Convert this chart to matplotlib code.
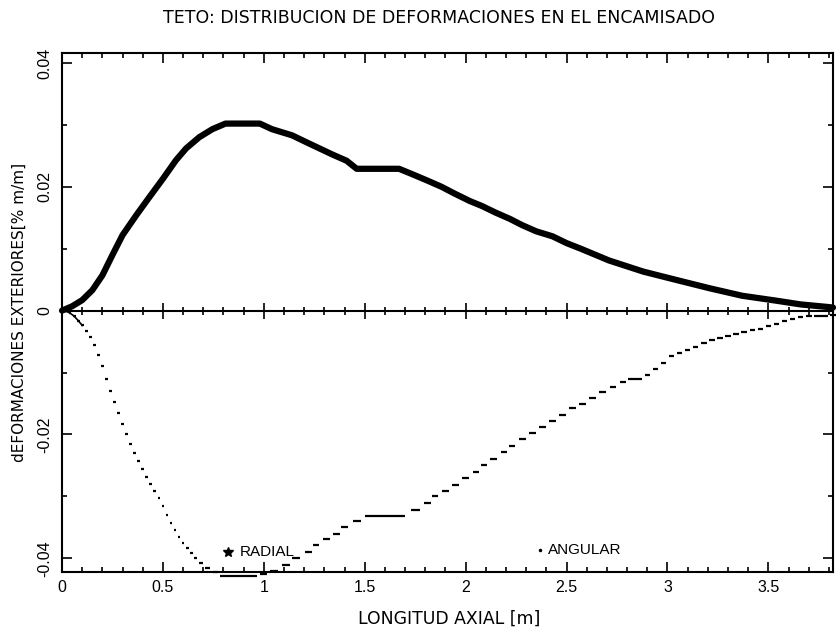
import matplotlib
matplotlib.use("Agg")
import matplotlib.pyplot as plt
import numpy as np
from matplotlib.ticker import MultipleLocator, FuncFormatter

plt.rcParams['font.family'] = ['Liberation Sans', 'DejaVu Sans']

title = "TETO: DISTRIBUCION DE DEFORMACIONES EN EL ENCAMISADO"
xlabel = "LONGITUD AXIAL [m]"
ylabel = "dEFORMACIONES EXTERIORES[% m/m]"

# RADIAL strain (upper curve)
radial_x = [0.0, 0.05, 0.10, 0.15, 0.20, 0.25, 0.30, 0.37, 0.43, 0.50, 0.565, 0.615,
            0.68, 0.745, 0.81, 0.90, 0.98, 1.04, 1.14, 1.21, 1.275, 1.34, 1.41,
            1.46, 1.56, 1.67, 1.73, 1.81, 1.88, 1.945, 2.02, 2.08, 2.15, 2.22,
            2.28, 2.35, 2.43, 2.50, 2.57, 2.71, 2.88, 3.05, 3.21, 3.37, 3.54,
            3.66, 3.79, 3.82]
radial_y = [0.0, 0.0007, 0.0017, 0.0033, 0.0057, 0.0090, 0.0122, 0.0155, 0.0182,
            0.0213, 0.0243, 0.0262, 0.0280, 0.0293, 0.0302, 0.0302, 0.0302, 0.0293,
            0.0283, 0.0272, 0.0262, 0.0252, 0.0242, 0.0229, 0.0229, 0.0229, 0.0221,
            0.0210, 0.0200, 0.0189, 0.0177, 0.0169, 0.0158, 0.0148, 0.0138, 0.0128,
            0.0120, 0.0109, 0.0100, 0.0081, 0.0063, 0.0049, 0.0036, 0.0024, 0.0016,
            0.0010, 0.0006, 0.0005]

# ANGULAR strain (lower curve)
angular_x = [0.0, 0.02, 0.04, 0.06, 0.08, 0.10, 0.12, 0.14, 0.16, 0.18, 0.20, 0.22,
             0.24, 0.26, 0.28, 0.30, 0.32, 0.34, 0.36, 0.38, 0.40, 0.42, 0.44, 0.46,
             0.48, 0.50, 0.52, 0.54, 0.56, 0.58, 0.60, 0.62, 0.64, 0.66, 0.69, 0.72,
             0.76, 0.80, 0.85, 0.90, 0.95, 1.00, 1.05, 1.11, 1.16, 1.22, 1.26, 1.31,
             1.36, 1.40, 1.46, 1.52, 1.56, 1.60, 1.64, 1.68, 1.75, 1.81, 1.85, 1.90,
             1.95, 2.00, 2.05, 2.09, 2.14, 2.19, 2.23, 2.28, 2.33, 2.38, 2.43, 2.48,
             2.53, 2.58, 2.63, 2.68, 2.73, 2.78, 2.82, 2.86, 2.90, 2.94, 2.98, 3.02,
             3.06, 3.10, 3.14, 3.18, 3.22, 3.26, 3.30, 3.34, 3.38, 3.42, 3.46, 3.50,
             3.54, 3.58, 3.62, 3.66, 3.70, 3.74, 3.78, 3.82]
angular_y = [0.0, -0.0001, -0.0004, -0.0009, -0.0016, -0.0024, -0.0033, -0.0043,
             -0.0055, -0.0072, -0.0090, -0.0110, -0.0130, -0.0148, -0.0166, -0.0183,
             -0.0200, -0.0216, -0.0230, -0.0243, -0.0256, -0.0268, -0.0280, -0.0291,
             -0.0303, -0.0316, -0.0330, -0.0343, -0.0355, -0.0366, -0.0376, -0.0384,
             -0.0392, -0.0399, -0.0408, -0.0416, -0.0422, -0.0428, -0.0428, -0.0428,
             -0.0428, -0.0426, -0.0421, -0.0410, -0.0400, -0.0389, -0.0379, -0.0369,
             -0.0360, -0.0350, -0.0340, -0.0332, -0.0332, -0.0332, -0.0332, -0.0332,
             -0.0322, -0.0311, -0.0300, -0.0291, -0.0281, -0.0270, -0.0260, -0.0249,
             -0.0239, -0.0229, -0.0218, -0.0208, -0.0198, -0.0188, -0.0178, -0.0168,
             -0.0158, -0.0150, -0.0141, -0.0132, -0.0124, -0.0116, -0.0110, -0.0110,
             -0.0104, -0.0095, -0.0085, -0.0074, -0.0068, -0.0063, -0.0058, -0.0053,
             -0.0048, -0.0045, -0.0041, -0.0038, -0.0035, -0.0032, -0.0029, -0.0025,
             -0.0021, -0.0017, -0.0014, -0.0011, -0.0009, -0.0008, -0.0008, -0.0007]

legend_labels = ["RADIAL", "ANGULAR"]

fig = plt.figure(figsize=(8.36, 6.33), dpi=100)
ax = fig.add_axes([0.0742, 0.0964, 0.9222, 0.8199])
xmin, xmax = 0.0, 3.82
ymin, ymax = -0.0422, 0.0416
ax.set_xlim(xmin, xmax)
ax.set_ylim(ymin, ymax)

ax.plot(radial_x, radial_y, color='black', lw=4.5, solid_capstyle='round',
        solid_joinstyle='round', clip_on=False)

# ANGULAR: plotter-style horizontal dashes, one per sample (runs of equal value merged)
ax_arr = np.asarray(angular_x)
ay_arr = np.asarray(angular_y)
sp = np.gradient(ax_arr)
half = 0.34 * sp
ax.plot(ax_arr[:6], ay_arr[:6], color='black', lw=1.2)
i = 0
n = len(ax_arr)
while i < n:
    j = i
    while j + 1 < n and ay_arr[j + 1] == ay_arr[i]:
        j += 1
    ax.hlines(ay_arr[i], ax_arr[i] - half[i], ax_arr[j] + half[j], color='black',
              lw=1.6, clip_on=False)
    i = j + 1

# legend as text
ax.plot([0.82], [-0.039], marker='*', color='black', markersize=7, linestyle='none')
ax.text(0.88, -0.039, legend_labels[0], fontsize=11, va='center', ha='left')
ax.plot([2.37], [-0.0386], marker='.', color='black', markersize=3, linestyle='none')
ax.text(2.41, -0.0386, legend_labels[1], fontsize=11, va='center', ha='left')

for s in ax.spines.values():
    s.set_linewidth(1.5)

ax.xaxis.set_major_locator(MultipleLocator(0.5))
ax.xaxis.set_minor_locator(MultipleLocator(0.1))
ax.yaxis.set_major_locator(MultipleLocator(0.02))
ax.yaxis.set_minor_locator(MultipleLocator(0.01))
ax.xaxis.set_major_formatter(FuncFormatter(lambda v, p: f"{v:g}"))
ax.yaxis.set_major_formatter(FuncFormatter(lambda v, p: "0" if abs(v) < 1e-9 else f"{v:.2f}"))

ax.tick_params(which='both', direction='in', top=True, right=True, width=1.2,
               labelsize=11.5)
ax.tick_params(which='major', length=7)
ax.tick_params(which='minor', length=3.5)
ax.tick_params(axis='x', pad=6)
ax.tick_params(axis='y', pad=7)
for lbl in ax.get_yticklabels():
    lbl.set_rotation(90)
    lbl.set_va('center')
    lbl.set_ha('right')

# zero axis with crossing ticks
frac0 = (0 - ymin) / (ymax - ymin)
sec = ax.secondary_xaxis(frac0)
sec.xaxis.set_major_locator(MultipleLocator(0.5))
sec.xaxis.set_minor_locator(MultipleLocator(0.1))
sec.tick_params(which='both', direction='inout', labeltop=False, labelbottom=False,
                width=1.2)
sec.tick_params(which='major', length=12)
sec.tick_params(which='minor', length=6)
for s in sec.spines.values():
    s.set_linewidth(1.5)

fig.text(0.525, 0.972, title, ha='center', va='center', fontsize=12.5,
         family='DejaVu Sans')
fig.text(0.537, 0.022, xlabel, ha='center', va='center', fontsize=12.4,
         family='DejaVu Sans')
fig.text(0.023, 0.507, ylabel, ha='center', va='center', fontsize=11,
         rotation=90, family='DejaVu Sans')

fig.savefig("out.png", dpi=100)
